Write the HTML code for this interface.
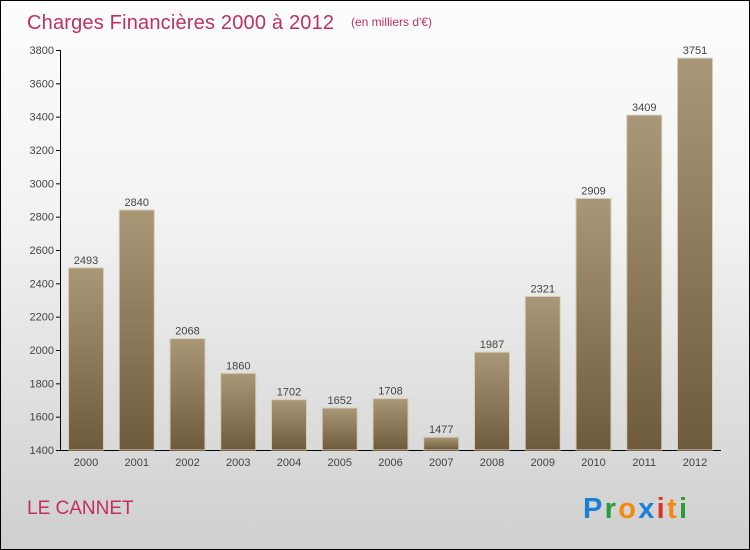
<!DOCTYPE html>
<html><head><meta charset="utf-8"><style>
body{margin:0}
#wrap{position:relative;width:748px;height:548px;border:1px solid #000;background:linear-gradient(#fdfdfd,#f2f2f2 40%,#cfcfcf);font-family:"Liberation Sans",sans-serif;overflow:hidden}
</style></head><body>
<div id="wrap">
<svg id="chart" width="748" height="548">
<defs><linearGradient id="bg" x1="0" y1="0" x2="0" y2="1"><stop offset="0" stop-color="#a99878"/><stop offset="1" stop-color="#6e5b3c"/></linearGradient></defs>
<text x="26" y="28" font-size="20" fill="#c0305f" textLength="307">Charges Financières 2000 à 2012</text>
<text x="350" y="25" font-size="12" fill="#c0305f">(en milliers d'€)</text>
<text x="26" y="513" font-size="19" fill="#c0305f">LE CANNET</text>
<g font-size="29" font-weight="bold">
<text x="582" y="517" textLength="104"><tspan fill="#1b7fd6">P</tspan><tspan fill="#2a9a3a">r</tspan><tspan fill="#f08a10">o</tspan><tspan fill="#1b7fd6">x</tspan><tspan fill="#e03020">i</tspan><tspan fill="#f08a10">t</tspan><tspan fill="#2a9a3a">i</tspan></text></g>
<g id="axes"></g><g id="bars"></g>
</svg></div>
<script>
const years=["2000","2001","2002","2003","2004","2005","2006","2007","2008","2009","2010","2011","2012"];
const values=[2493,2840,2068,1860,1702,1652,1708,1477,1987,2321,2909,3409,3751];
const ticks=[1400,1600,1800,2000,2200,2400,2600,2800,3000,3200,3400,3600,3800];
const NS="http://www.w3.org/2000/svg";
const y0=449,yMin=1400,yMax=3800,yTop=49;
const y=v=>y0-(v-yMin)/(yMax-yMin)*(y0-yTop);
const x=i=>85+i*50.75;
const axes=document.getElementById('axes'),bars=document.getElementById('bars');
function mk(t,a,p){const e=document.createElementNS(NS,t);for(const k in a)e.setAttribute(k,a[k]);p.appendChild(e);return e;}
let l=mk('line',{x1:59.5,y1:yTop,x2:59.5,y2:y0,stroke:'#000'},axes);


l=mk('line',{x1:59,y1:y0+0.5,x2:720,y2:y0+0.5,stroke:'#000'},axes);


ticks.forEach(t=>{
 mk('line',{x1:55,x2:60,y1:y(t)+0.5,y2:y(t)+0.5,stroke:'#000'},axes);
 const tx=mk('text',{x:53,y:y(t)+4,'font-size':11,'text-anchor':'end',fill:'#444'},axes);
 tx.textContent=t;
 
 
});
years.forEach((yr,i)=>{
 const cx=x(i),v=values[i];
 const r=mk('rect',{x:cx-17.5,y:y(v),width:35,height:y0-y(v),fill:'url(#bg)',stroke:'#d8ccb4','stroke-width':1},bars);
 
 
 const vt=mk('text',{x:cx,y:y(v)-4,'font-size':11,'text-anchor':'middle',fill:'#444'},bars);
 vt.textContent=v;
 
 
 const xt=mk('text',{x:cx,y:465,'font-size':11,'text-anchor':'middle',fill:'#444'},axes);
 xt.textContent=yr;
 
 
});
</script>
</body></html>
